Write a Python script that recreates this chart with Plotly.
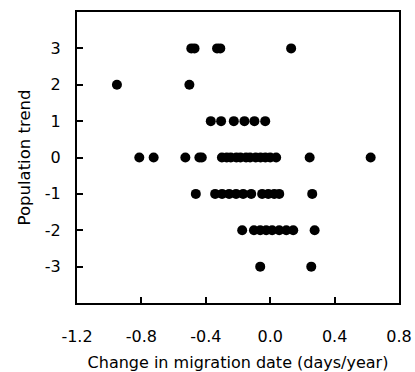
import plotly.graph_objects as go

# Population trend rows and the migration-date changes read per row
trend_3 = [-0.49, -0.47, -0.33, -0.31, 0.13]
trend_2 = [-0.952, -0.502]
trend_1 = [-0.369, -0.305, -0.226, -0.160, -0.098, -0.031]
trend_0 = [-0.813, -0.724, -0.527, -0.44, -0.425, -0.30, -0.27, -0.245, -0.21, -0.185,
           -0.15, -0.125, -0.09, -0.06, -0.03, 0.0, 0.037, 0.245, 0.624]
trend_m1 = [-0.462, -0.342, -0.299, -0.255, -0.212, -0.168, -0.118, -0.05, -0.012,
            0.025, 0.056, 0.261]
trend_m2 = [-0.174, -0.101, -0.062, -0.025, 0.012, 0.056, 0.100, 0.143, 0.276]
trend_m3 = [-0.062, 0.255]

rows = {3: trend_3, 2: trend_2, 1: trend_1, 0: trend_0, -1: trend_m1, -2: trend_m2, -3: trend_m3}

x_vals, y_vals = [], []
for trend, changes in rows.items():
    for c in changes:
        x_vals.append(c)
        y_vals.append(trend)

x_ticks = [-1.2, -0.8, -0.4, 0.0, 0.4, 0.8]
x_tick_labels = ["-1.2", "-0.8", "-0.4", "0.0", "0.4", "0.8"]
y_ticks = [-3, -2, -1, 0, 1, 2, 3]
y_tick_labels = ["-3", "-2", "-1", "0", "1", "2", "3"]

fig = go.Figure(go.Scatter(
    x=x_vals, y=y_vals, mode="markers",
    marker=dict(color="black", size=10, line=dict(width=0)),
))

tick_font = dict(family="DejaVu Sans, Arial, sans-serif", size=16, color="black")
xtitle_font = dict(family="DejaVu Sans, Arial, sans-serif", size=16, color="black")
ytitle_font = dict(family="DejaVu Sans, Arial, sans-serif", size=16.5, color="black")

fig.update_layout(
    width=415, height=372,
    margin=dict(l=77, r=16, t=12, b=69),
    plot_bgcolor="white", paper_bgcolor="white",
    showlegend=False,
    font=tick_font,
)
fig.update_xaxes(
    range=[-1.2, 0.8], tickvals=x_ticks, ticktext=x_tick_labels, automargin=False,
    ticks="inside", ticklen=6, tickwidth=2, tickcolor="black",
    showline=True, linecolor="black", linewidth=2, mirror=True,
    showgrid=False, zeroline=False, ticklabelstandoff=18, tickfont=tick_font,
    title=dict(text="Change in migration date (days/year)", standoff=17, font=xtitle_font),
)
fig.update_yaxes(
    range=[-4, 4], tickvals=y_ticks, ticktext=y_tick_labels, automargin=False,
    ticks="inside", ticklen=6, tickwidth=2, tickcolor="black",
    showline=True, linecolor="black", linewidth=2, mirror=True,
    showgrid=False, zeroline=False, ticklabelstandoff=11, tickfont=tick_font,
    title=dict(text="Population trend", standoff=10, font=ytitle_font),
)

fig.write_html(
    "out.html",
    config={"displayModeBar": False},
    post_script="document.body.style.margin='0';document.body.style.padding='0';",
)
